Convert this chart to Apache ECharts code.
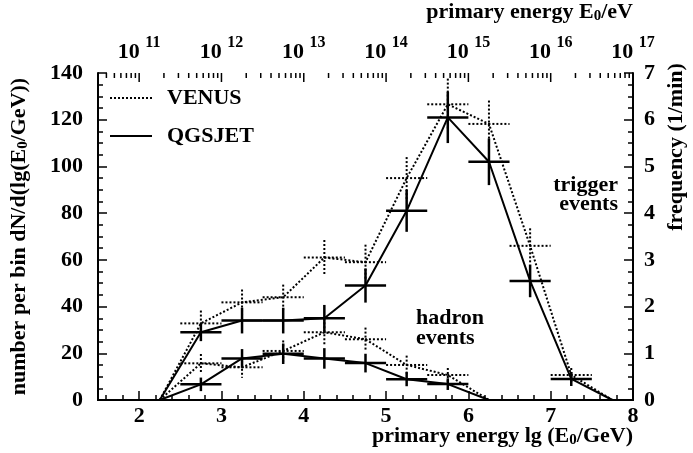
<!DOCTYPE html>
<html>
<head>
<meta charset="utf-8">
<script src="https://cdn.jsdelivr.net/npm/echarts@6/dist/echarts.min.js"></script>
<style>html,body{margin:0;padding:0;background:#fff}#c{width:693px;height:453px}</style>
</head>
<body>
<div id="c"></div>
<script>
// ---- data ----
const trigBins = [2.75, 3.25, 3.75, 4.25, 4.75, 5.25, 5.75, 6.25, 6.75, 7.25];
const qgsTrig    = [29, 34, 34, 35, 49, 81, 121, 102, 51, 9];
const qgsTrigErr = [3.8, 5.5, 5.5, 5.7, 7.3, 9, 11, 10, 7, 3];
const venTrig    = [32.8, 41.8, 44, 61, 59, 95, 126.6, 118.2, 66, 10.7];
const venTrigErr = [5.5, 5.5, 5.4, 7.5, 7.5, 9, 11, 10, 7.5, 3];
const trigStart = 2.25, trigEnd = 7.75;

const hadBins = [2.75, 3.25, 3.75, 4.25, 4.75, 5.25, 5.75];
const qgsHad    = [6.7, 17.8, 19.8, 17.8, 15.8, 8.9, 6.8];
const qgsHadErr = [2.9, 4, 4.4, 4.4, 4, 3, 2.5];
const venHad    = [15.7, 14, 21, 29, 26, 15, 10.7];
const venHadErr = [4, 4.5, 4.5, 6, 5, 4, 3];
const hadStart = 2.25, hadEnd = 6.25;

const binHalf = 0.25;
const xMin = 1.5, xMax = 8;
const yMax = 140, freqMax = 7;
const eVOffset = 9; // lg(E0/eV) = lg(E0/GeV) + 9

// ---- helpers ----
const FONT = '"Liberation Serif", "DejaVu Serif", serif';
const FS = 22;
function lineData(bins, vals, start, end) {
  const d = [[start, 0]];
  bins.forEach((b, i) => d.push([b, vals[i]]));
  d.push([end, 0]);
  return d;
}
function errData(bins, vals, errs) {
  return bins.map((b, i) => [b, vals[i], errs[i]]);
}
function errSeries(name, data, dotted) {
  return {
    name: name, type: 'custom', data: data, z: 3,
    renderItem: function (params, api) {
      const x = api.value(0), y = api.value(1), e = api.value(2);
      const l = api.coord([x - binHalf, y]), r = api.coord([x + binHalf, y]);
      const t = api.coord([x, y + e]), b = api.coord([x, y - e]);
      const st = { stroke: '#000', lineWidth: dotted ? 2 : 2.5, lineDash: dotted ? [2, 2] : null };
      return { type: 'group', children: [
        { type: 'line', shape: { x1: l[0], y1: l[1], x2: r[0], y2: r[1] }, style: st },
        { type: 'line', shape: { x1: t[0], y1: t[1], x2: b[0], y2: b[1] }, style: st }
      ]};
    }
  };
}
// top axis (log energy) tick positions, derived from the axis range
const topTicks = [];
for (let dec = Math.floor(xMin); dec < xMax; dec++) {
  for (let k = 1; k <= 9; k++) {
    const v = dec + Math.log10(k);
    if (v > xMin + 1e-9 && v < xMax - 1e-9) topTicks.push([v, k === 1 ? 1 : 0]);
  }
}
const subRich = { sub: { fontFamily: FONT, fontWeight: 'bold', fontSize: 15, color: '#000', fill: '#000', verticalAlign: 'bottom', padding: [9, 0, 0, 0] } };

const chart = echarts.init(document.getElementById('c'), null, { renderer: 'canvas' });
const tickLabel = { fontFamily: FONT, fontWeight: 'bold', fontSize: FS, color: '#000' };
const axisLine = { show: true, lineStyle: { color: '#000', width: 2 } };

chart.setOption({
  animation: false,
  backgroundColor: '#fff',
  grid: { left: 93, right: 60, top: 73, bottom: 53, containLabel: false },
  legend: {
    left: 104, top: 82, orient: 'vertical', itemWidth: 42, itemHeight: 20, itemGap: 16,
    data: ['VENUS', 'QGSJET'],
    itemStyle: { color: 'rgba(0,0,0,0)', borderColor: 'rgba(0,0,0,0)', borderWidth: 0, opacity: 0 },
    textStyle: { fontFamily: FONT, fontWeight: 'bold', fontSize: FS, color: '#000', padding: [0, 0, 0, 10] }
  },
  xAxis: [
    { type: 'value', position: 'bottom', min: xMin, max: xMax, minInterval: 1, maxInterval: 1,
      axisLine: axisLine, splitLine: { show: false },
      axisTick: { show: true, inside: true, length: 9, lineStyle: { color: '#000', width: 1.5 } },
      minorTick: { show: true, splitNumber: 5, length: 5, lineStyle: { color: '#000', width: 1.5 } },
      axisLabel: Object.assign({ margin: 5, formatter: v => Number.isInteger(v) ? String(v) : '' }, tickLabel)
    },
    { type: 'value', position: 'top', min: xMin, max: xMax, minInterval: 1, maxInterval: 1,
      axisLine: axisLine, splitLine: { show: false }, axisTick: { show: false },
      axisLabel: { margin: 10,
        formatter: v => Number.isInteger(v) ? '{b|10 }{s|' + (v + eVOffset) + '}' : '',
        rich: {
          b: { fontFamily: FONT, fontWeight: 'bold', fontSize: FS, color: '#000', lineHeight: 28, verticalAlign: 'bottom' },
          s: { fontFamily: FONT, fontWeight: 'bold', fontSize: 16, color: '#000', verticalAlign: 'top' }
        }
      }
    }
  ],
  yAxis: [
    { type: 'value', position: 'left', min: 0, max: yMax, interval: 20,
      axisLine: axisLine, splitLine: { show: false },
      axisTick: { show: true, inside: true, length: 9, lineStyle: { color: '#000', width: 1.5 } },
      minorTick: { show: true, splitNumber: 4, length: 5, lineStyle: { color: '#000', width: 1.5 } },
      axisLabel: Object.assign({ margin: 15 }, tickLabel),
      name: 'number per bin dN/d(lg(E{sub|0}/GeV))', nameLocation: 'middle', nameGap: 67, nameRotate: 90,
      nameTextStyle: { fontFamily: FONT, fontWeight: 'bold', fontSize: FS, color: '#000', rich: subRich }
    },
    { type: 'value', position: 'right', min: 0, max: freqMax, interval: 1,
      axisLine: axisLine, splitLine: { show: false },
      axisTick: { show: true, inside: true, length: 9, lineStyle: { color: '#000', width: 1.5 } },
      minorTick: { show: true, splitNumber: 4, length: 5, lineStyle: { color: '#000', width: 1.5 } },
      axisLabel: Object.assign({ margin: 11 }, tickLabel)
    }
  ],
  graphic: [
    { type: 'text', right: 60, top: 1,
      style: { text: 'primary energy E{sub|0}/eV', fill: '#000', font: 'bold ' + FS + 'px ' + FONT, rich: subRich } },
    { type: 'text', right: 60, top: 425,
      style: { text: 'primary energy lg (E{sub|0}/GeV)', fill: '#000', font: 'bold ' + FS + 'px ' + FONT, rich: subRich } },
    { type: 'text', x: 676, y: 147, rotation: Math.PI / 2,
      style: { text: 'frequency (1/min)', fill: '#000', font: 'bold ' + FS + 'px ' + FONT, align: 'center', verticalAlign: 'middle' } },
    { type: 'text', x: 618, y: 195,
      style: { text: 'trigger\nevents', fill: '#000', font: 'bold ' + FS + 'px ' + FONT, align: 'right', verticalAlign: 'middle', lineHeight: 19 } },
    { type: 'text', x: 416, y: 328,
      style: { text: 'hadron\nevents', fill: '#000', font: 'bold ' + FS + 'px ' + FONT, align: 'left', verticalAlign: 'middle', lineHeight: 20 } }
  ],
  series: [
    { name: 'VENUS', type: 'line', data: lineData(trigBins, venTrig, trigStart, trigEnd), showSymbol: false, symbol: 'none',
      lineStyle: { color: '#000', width: 2, type: [2, 2] }, itemStyle: { color: '#000' } },
    { name: 'QGSJET', type: 'line', data: lineData(trigBins, qgsTrig, trigStart, trigEnd), showSymbol: false, symbol: 'none',
      lineStyle: { color: '#000', width: 2 }, itemStyle: { color: '#000' } },
    { name: 'VENUS', type: 'line', data: lineData(hadBins, venHad, hadStart, hadEnd), showSymbol: false, symbol: 'none',
      lineStyle: { color: '#000', width: 2, type: [2, 2] }, itemStyle: { color: '#000' } },
    { name: 'QGSJET', type: 'line', data: lineData(hadBins, qgsHad, hadStart, hadEnd), showSymbol: false, symbol: 'none',
      lineStyle: { color: '#000', width: 2 }, itemStyle: { color: '#000' } },
    errSeries('VENUS', errData(trigBins, venTrig, venTrigErr), true),
    errSeries('QGSJET', errData(trigBins, qgsTrig, qgsTrigErr), false),
    errSeries('VENUS', errData(hadBins, venHad, venHadErr), true),
    errSeries('QGSJET', errData(hadBins, qgsHad, qgsHadErr), false),
    { type: 'custom', data: topTicks, silent: true, z: 4,
      renderItem: function (params, api) {
        const p = api.coord([api.value(0), yMax]);
        const len = api.value(1) ? 9 : 5;
        return { type: 'line', shape: { x1: p[0], y1: p[1], x2: p[0], y2: p[1] + len },
          style: { stroke: '#000', lineWidth: 1.5 } };
      }
    }
  ]
});
</script>
</body>
</html>
